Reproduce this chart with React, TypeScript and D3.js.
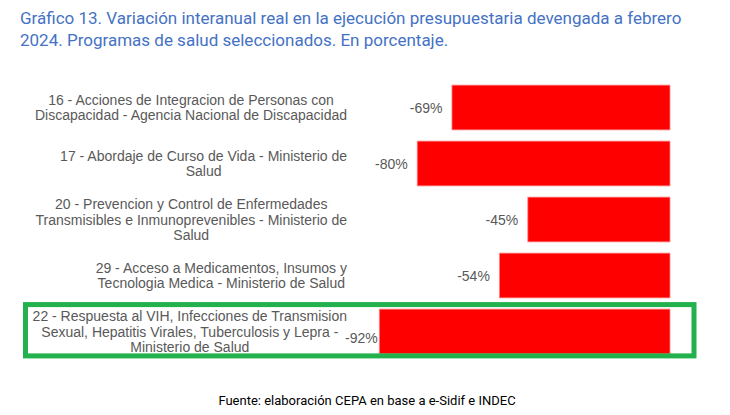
import { useEffect, useRef } from "react";
import * as d3 from "d3";

// programas (líneas ya cortadas como en el gráfico original)
const programas: string[][] = [
  ["16 - Acciones de Integracion de Personas con", "Discapacidad - Agencia Nacional de Discapacidad"],
  ["17 - Abordaje de Curso de Vida - Ministerio de", "Salud"],
  ["20 - Prevencion y Control de Enfermedades", "Transmisibles e Inmunoprevenibles - Ministerio de", "Salud"],
  ["29 - Acceso a Medicamentos, Insumos y", "Tecnologia Medica - Ministerio de Salud"],
  ["22 - Respuesta al VIH, Infecciones de Transmision", "Sexual, Hepatitis Virales, Tuberculosis y Lepra -", "Ministerio de Salud"],
];
const variacion = [-69, -80, -45, -54, -92];
const destacado = 4;

const titulo = [
  "Gráfico 13. Variación interanual real en la ejecución presupuestaria devengada a febrero",
  "2024. Programas de salud seleccionados. En porcentaje.",
];
const fuente = "Fuente: elaboración CEPA en base a e-Sidif e INDEC";

function App() {
  const svgRef = useRef<SVGSVGElement>(null);

  useEffect(() => {
    if (!svgRef.current) return;
    const svg = d3.select(svgRef.current);
    svg.selectAll("*").remove();

    const width = 730;
    const height = 415;
    const labelRight = 347;

    const x = d3.scaleLinear().domain([-100, 0]).range([354, 670]);
    const y = d3
      .scaleBand<number>()
      .domain(d3.range(programas.length))
      .range([79.5, 359.5])
      .paddingInner(0.2)
      .paddingOuter(0.1);

    svg.append("rect").attr("width", width).attr("height", height).attr("fill", "#fff");

    // título
    svg
      .append("text")
      .attr("font-family", "Roboto")
      .attr("font-size", 17)
      .attr("fill", "#4472c4")
      .selectAll("tspan")
      .data(titulo)
      .join("tspan")
      .attr("x", 20)
      .attr("y", (_, i) => 23.5 + i * 22.5)
      .text((d) => d);

    // barras
    svg
      .append("g")
      .selectAll("rect")
      .data(variacion)
      .join("rect")
      .attr("x", (d) => x(d))
      .attr("y", (_, i) => y(i)!)
      .attr("width", (d) => x(0) - x(d))
      .attr("height", y.bandwidth())
      .attr("fill", "#ff0000")
      .attr("stroke", "#ff8a8a")
      .attr("stroke-width", 0.8);

    // etiquetas de categoría: bloque alineado a la derecha, líneas centradas
    const lineH = 15.3;
    programas.forEach((lines, i) => {
      const g = svg.append("g");
      const texts = lines.map((l) =>
        g
          .append("text")
          .attr("font-family", "Liberation Sans, Arial, sans-serif")
          .attr("font-size", 14)
          .attr("fill", "#595959")
          .attr("text-anchor", "middle")
          .text(l)
      );
      const maxW = d3.max(texts, (t) => (t.node() as SVGTextElement).getComputedTextLength()) || 0;
      const cx = labelRight - maxW / 2;
      const cy = y(i)! + y.bandwidth() / 2;
      texts.forEach((t, j) => {
        t.attr("x", cx).attr("y", cy + (j - (lines.length - 1) / 2) * lineH + 5);
      });
    });

    // valores
    variacion.forEach((v, i) => {
      const t = svg
        .append("text")
        .attr("font-family", "Liberation Sans, Arial, sans-serif")
        .attr("font-size", 14)
        .attr("fill", "#595959")
        .attr("text-anchor", "end")
        .text(`${v}%`);
      const w = (t.node() as SVGTextElement).getComputedTextLength();
      const xr = Math.max(x(v) - 9.5, labelRight - 2 + w);
      const shifted = xr > x(v) - 9.5;
      t.attr("x", xr).attr("y", y(i)! + y.bandwidth() / 2 + 5 + (shifted ? 6 : 0));
    });

    // recuadro del programa destacado
    svg
      .append("rect")
      .attr("x", 25.5)
      .attr("y", y(destacado)! - 4.5)
      .attr("width", 668.5)
      .attr("height", y.bandwidth() + 6.5)
      .attr("fill", "none")
      .attr("stroke", "#22b14c")
      .attr("stroke-width", 5);

    // fuente
    svg
      .append("text")
      .attr("x", 367)
      .attr("y", 405)
      .attr("text-anchor", "middle")
      .attr("font-family", "Roboto")
      .attr("font-size", 13)
      .attr("fill", "#000")
      .text(fuente);
  }, []);

  return (
    <svg
      ref={svgRef}
      width={730}
      height={415}
      style={{ position: "absolute", left: 0, top: 0 }}
    ></svg>
  );
}

export default App;
